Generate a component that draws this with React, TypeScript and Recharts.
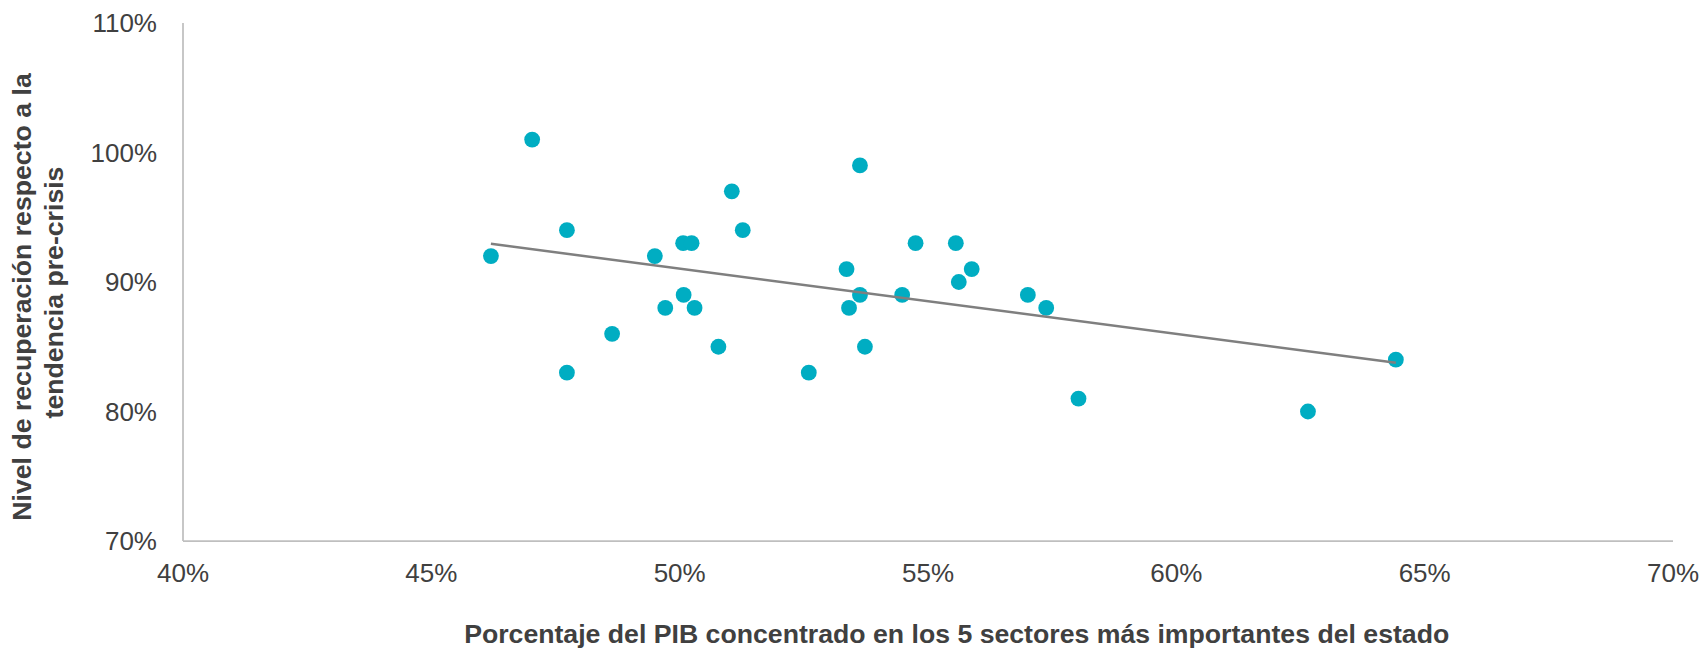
import React from 'react';
import { ScatterChart, Scatter, XAxis, YAxis } from 'recharts';

// Porcentaje del PIB concentrado en los 5 sectores (x, %)
const sharePIB: number[] = [
  46.2, 47.03, 47.73, 47.73, 48.64, 49.5, 49.71, 50.08, 50.07, 50.24,
  50.3, 50.78, 51.05, 51.27, 52.6, 53.36, 53.41, 53.63, 53.63, 53.73,
  54.48, 54.75, 55.56, 55.62, 55.88, 57.01, 57.38, 58.03, 62.65, 64.42,
];
// Nivel de recuperación respecto a la tendencia pre-crisis (y, %)
const recovery: number[] = [
  92, 101, 94, 83, 86, 92, 88, 89, 93, 93,
  88, 85, 97, 94, 83, 91, 88, 99, 89, 85,
  89, 93, 93, 90, 91, 89, 88, 81, 80, 84,
];
// Línea de tendencia (extremos)
const trendX: number[] = [46.2, 64.42];
const trendY: number[] = [92.95, 83.77];

const xTicks: number[] = [40, 45, 50, 55, 60, 65, 70];
const yTicks: number[] = [70, 80, 90, 100, 110];

const xTitle = 'Porcentaje del PIB concentrado en los 5 sectores más importantes del estado';
const yTitleLines: string[] = ['Nivel de recuperación respecto a la', 'tendencia pre-crisis'];

const points = sharePIB.map((x, i) => ({ x, y: recovery[i] }));
const trend = trendX.map((x, i) => ({ x, y: trendY[i] }));

const FONT = '"Liberation Sans", Arial, sans-serif';
const TEXT = '#404040';
const AXIS = '#BFBFBF';
const DOT = '#00ADC2';

const Dot = (props: any) => <circle cx={props.cx} cy={props.cy} r={7.9} fill={DOT} />;
const NoDot = () => <g />;

const XTitle = () => (
  <text x={956.7} y={643} textAnchor="middle" fontFamily={FONT} fontSize={26.67} fontWeight="bold" fill={TEXT}>
    {xTitle}
  </text>
);

const YTitle = () => (
  <g>
    <text transform="translate(31,297) rotate(-90)" textAnchor="middle" fontFamily={FONT} fontSize={26.67} fontWeight="bold" fill={TEXT}>
      {yTitleLines[0]}
    </text>
    <text transform="translate(62.8,292.5) rotate(-90)" textAnchor="middle" fontFamily={FONT} fontSize={26.67} fontWeight="bold" fill={TEXT}>
      {yTitleLines[1]}
    </text>
  </g>
);

export default function App() {
  return (
    <div style={{ position: 'absolute', left: 0, top: 0, width: 1704, height: 649, background: '#fff' }}>
      <ScatterChart width={1704} height={649} margin={{ top: 23, right: 31, left: 0, bottom: 0 }}>
        <XAxis
          dataKey="x"
          type="number"
          domain={[40, 70]}
          ticks={xTicks}
          interval={0}
          height={108}
          tickSize={0}
          tickMargin={23}
          tickLine={false}
          axisLine={{ stroke: AXIS, strokeWidth: 1.75 }}
          tick={{ fill: TEXT, fontSize: 26, fontFamily: FONT }}
          tickFormatter={(v: number) => `${v}%`}
          label={<XTitle />}
        />
        <YAxis
          dataKey="y"
          type="number"
          domain={[70, 110]}
          ticks={yTicks}
          interval={0}
          width={183}
          tickSize={0}
          tickMargin={26}
          tickLine={false}
          axisLine={{ stroke: AXIS, strokeWidth: 1.75 }}
          tick={{ fill: TEXT, fontSize: 26, fontFamily: FONT }}
          tickFormatter={(v: number) => `${v}%`}
          label={<YTitle />}
        />
        <Scatter data={points} shape={Dot} isAnimationActive={false} />
        <Scatter
          data={trend}
          shape={NoDot}
          line={{ stroke: '#7F7F7F', strokeWidth: 2.5 }}
          isAnimationActive={false}
        />
      </ScatterChart>
    </div>
  );
}
